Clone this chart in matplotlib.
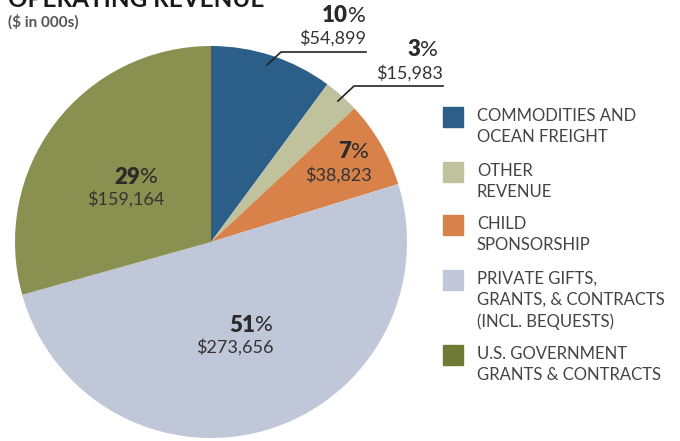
import matplotlib.pyplot as plt

# revenue slices, clockwise from 12 o'clock
categories = ["COMMODITIES AND\nOCEAN FREIGHT", "OTHER\nREVENUE", "CHILD\nSPONSORSHIP",
              "PRIVATE GIFTS,\nGRANTS, & CONTRACTS\n(INCL. BEQUESTS)",
              "U.S. GOVERNMENT\nGRANTS & CONTRACTS"]
values = [54899, 15983, 38823, 273656, 159164]
pct_labels = ["10", "3", "7", "51", "29"]
colors = ["#2b5f8a", "#c0c29d", "#d8824a", "#bfc7d8", "#8a9050"]
legend_colors = ["#2b5f8a", "#c0c29d", "#d8824a", "#bfc7d8", "#6f7b35"]

W, H = 680, 441
plt.rcParams['font.family'] = ['Lato', 'DejaVu Sans']
fig = plt.figure(figsize=(W / 100, H / 100), dpi=100)

def px(x, y):
    return x / W, 1 - y / H

# pie
cx, cy, r = 211, 242, 196
ax = fig.add_axes([(cx - r) / W, (H - cy - r) / H, 2 * r / W, 2 * r / H])
ax.pie(values, colors=colors, startangle=90, counterclock=False, radius=1,
       wedgeprops=dict(linewidth=0))
ax.set_xlim(-1, 1)
ax.set_ylim(-1, 1)
ax.set_aspect('equal')
ax.axis('off')

txt = "#2a2a2a"
fig.text(*px(8, 7), "OPERATING REVENUE", fontsize=17.5, fontweight='bold', color="#1a1a1a",
         va='baseline', ha='left')
fig.text(*px(8, 22), "($ in 000s)", fontsize=11, fontweight='bold', color="#555555",
         va='center', ha='left')

# value labels: (split x for number/%, y of pct, right edge of $, y of $)
label_pos = [(348, 16, 366, 38), (420, 50, 443, 73), (351, 152, 372, 175),
             (255, 325, 274, 347), (140, 177, 164, 199)]
for pct, v, (sx, py, dx, dy) in zip(pct_labels, values, label_pos):
    fig.text(*px(sx, py), pct, fontsize=16, fontweight='heavy', color=txt,
             ha='right', va='center')
    fig.text(*px(sx, py), "%", fontsize=16, fontweight='normal', color=txt,
             ha='left', va='center')
    fig.text(*px(dx, dy), f"${v:,}", fontsize=13, fontweight='normal', color="#333333",
             ha='right', va='center')

# leader lines
for pts in [[(267, 65), (281, 52), (366, 52)], [(338, 101), (354, 86), (443, 86)]]:
    xs = [p[0] / W for p in pts]
    ys = [1 - p[1] / H for p in pts]
    fig.add_artist(plt.Line2D(xs, ys, color="#222222", linewidth=1.2))

# legend
legend_y = [107, 162, 215, 270, 345]
for lab, c, y in zip(categories, legend_colors, legend_y):
    x0, y0 = px(443, y + 20)
    fig.add_artist(plt.Rectangle((x0, y0), 20 / W, 20 / H, color=c, transform=fig.transFigure))
    fig.text(*px(477, y + 1), lab, fontsize=12, color="#444444", ha='left', va='top',
             linespacing=1.38)

fig.savefig("out.png", dpi=100)
